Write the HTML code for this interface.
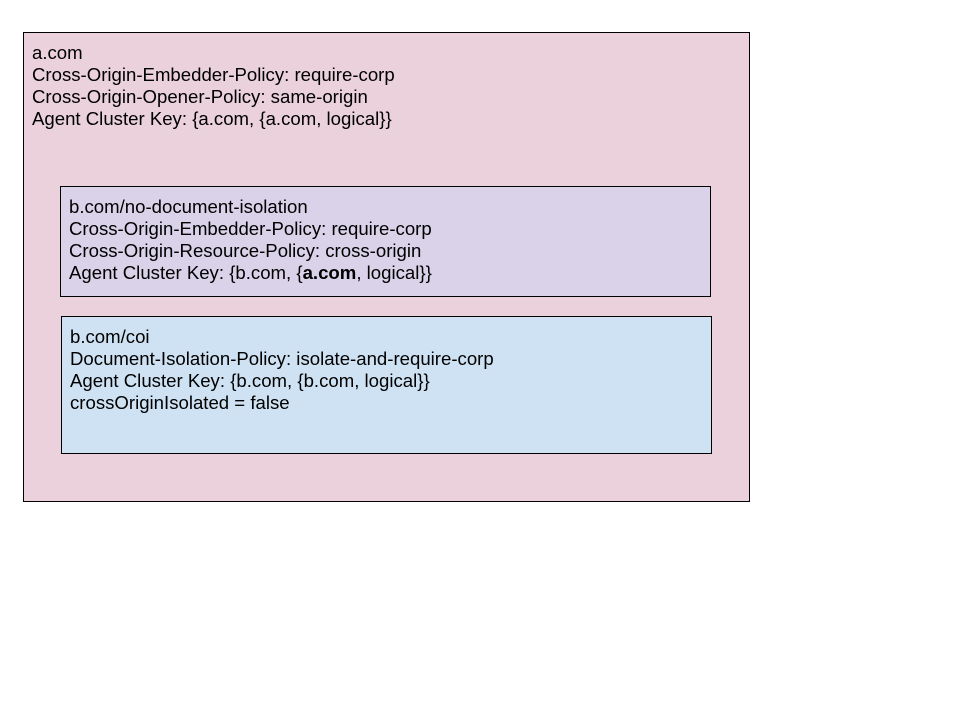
<!DOCTYPE html>
<html><head><style>
body{margin:0;width:960px;height:720px;background:#fff;position:relative;font-family:"Liberation Sans",sans-serif;font-size:18.6px;color:#000}
.b{position:absolute;border:1px solid #000;box-sizing:border-box}
.t{position:absolute;line-height:22px;white-space:nowrap}
</style></head><body>
<div class="b" style="left:23px;top:32px;width:727px;height:470px;background:#ead1dc"></div>
<div class="t" style="left:32px;top:42px">a.com<br>Cross-Origin-Embedder-Policy: require-corp<br>Cross-Origin-Opener-Policy: same-origin<br>Agent Cluster Key: {a.com, {a.com, logical}}</div>
<div class="b" style="left:60px;top:186px;width:651px;height:111px;background:#d9d2e9"></div>
<div class="t" style="left:69px;top:196px">b.com/no-document-isolation<br>Cross-Origin-Embedder-Policy: require-corp<br>Cross-Origin-Resource-Policy: cross-origin<br>Agent Cluster Key: {b.com, {<b>a.com</b>, logical}}</div>
<div class="b" style="left:61px;top:316px;width:651px;height:138px;background:#cfe2f3"></div>
<div class="t" style="left:70px;top:326px">b.com/coi<br>Document-Isolation-Policy: isolate-and-require-corp<br>Agent Cluster Key: {b.com, {b.com, logical}}<br>crossOriginIsolated = false</div>
</body></html>
